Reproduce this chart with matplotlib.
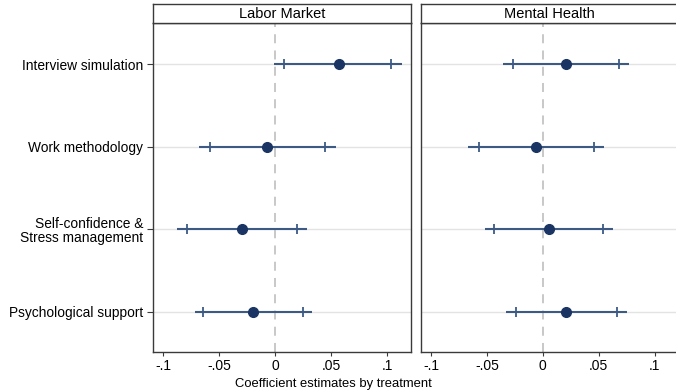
import matplotlib
matplotlib.use('Agg')
import matplotlib.pyplot as plt

plt.rcParams['font.family'] = ['Liberation Sans', 'DejaVu Sans']

categories = ['Interview simulation', 'Work methodology',
              'Self-confidence &\nStress management', 'Psychological support']
panels = ['Labor Market', 'Mental Health']

# point estimates, inner (capped) CI, outer CI
coef = {
    'Labor Market': [0.0565, -0.007, -0.030, -0.0196],
    'Mental Health': [0.0206, -0.006, 0.0054, 0.0212],
}
ci95_lo = {
    'Labor Market': [0.008, -0.058, -0.079, -0.064],
    'Mental Health': [-0.0264, -0.0567, -0.0434, -0.024],
}
ci95_hi = {
    'Labor Market': [0.1036, 0.044, 0.019, 0.0247],
    'Mental Health': [0.0678, 0.0455, 0.054, 0.0666],
}
ci99_lo = {
    'Labor Market': [-0.001, -0.068, -0.088, -0.072],
    'Mental Health': [-0.0353, -0.067, -0.052, -0.0326],
}
ci99_hi = {
    'Labor Market': [0.113, 0.054, 0.0286, 0.033],
    'Mental Health': [0.0768, 0.055, 0.063, 0.0755],
}
xticks = [-0.1, -0.05, 0, 0.05, 0.1]
xticklabels = ['-.1', '-.05', '0', '.05', '.1']

W, H = 676, 392
fig = plt.figure(figsize=(W / 100, H / 100), dpi=100)

point_col = '#1a3563'
line_col = '#3d5a85'
spine_col = '#3a3a3a'

lefts = [153, 421]
widths = [258, 257]
ax_bottom = 1 - 352 / H
ax_top = 1 - 23 / H
hdr_top = 1 - 4 / H

ypos = list(range(1, len(categories) + 1))

for i, name in enumerate(panels):
    ax = fig.add_axes([lefts[i] / W, ax_bottom, widths[i] / W, ax_top - ax_bottom])
    ax.set_xlim(-0.109, 0.121)
    ax.set_ylim(4.49, 0.5)
    for y in ypos:
        ax.axhline(y, color='#e3e3e3', lw=1.0, zorder=1)
    ax.axvline(0, color='#c4c4c4', lw=1.3, ls=(0, (5, 4)), zorder=1)
    ax.hlines(ypos, ci99_lo[name], ci99_hi[name], color=line_col, lw=1.5, zorder=3)
    ax.plot(ci95_lo[name], ypos, ls='none', marker='|', ms=7, mew=1.3, color=line_col, zorder=3)
    ax.plot(ci95_hi[name], ypos, ls='none', marker='|', ms=7, mew=1.3, color=line_col, zorder=3)
    ax.plot(coef[name], ypos, ls='none', marker='o', ms=7, color=point_col, zorder=4)

    ax.set_xticks(xticks)
    ax.set_xticklabels(xticklabels, fontsize=10)
    ax.set_yticks(ypos)
    if i == 0:
        ax.set_yticklabels(categories, fontsize=9.9, linespacing=1.05)
    else:
        ax.set_yticklabels([])
    ax.tick_params(axis='x', length=3, width=0.8, color=spine_col, pad=2)
    ax.tick_params(axis='y', length=4.5, width=0.8, color=spine_col, pad=2.5)
    if i == 1:
        ax.tick_params(axis='y', length=0)
        ax.spines['right'].set_visible(False)
    for s in ax.spines.values():
        s.set_color(spine_col)
        s.set_linewidth(1.0)

    hdr = fig.add_axes([lefts[i] / W, ax_top, widths[i] / W, hdr_top - ax_top])
    hdr.set_xticks([])
    hdr.set_yticks([])
    for s in hdr.spines.values():
        s.set_color(spine_col)
        s.set_linewidth(1.0)
    if i == 1:
        hdr.spines['right'].set_visible(False)
    hdr.text(0.5, 0.45, name, ha='center', va='center', fontsize=10.5, transform=hdr.transAxes)

fig.text(333 / W, 1 - 384 / H, 'Coefficient estimates by treatment', ha='center', va='center', fontsize=9.4)

fig.savefig('out.png', dpi=100, facecolor='white')
